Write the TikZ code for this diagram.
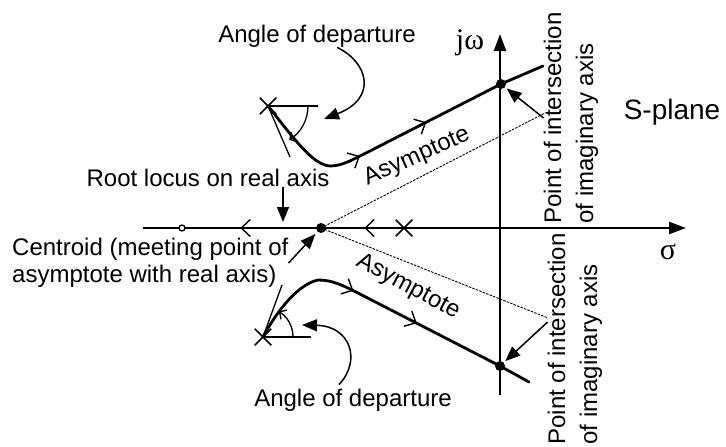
\documentclass[tikz,border=0pt]{standalone}
\usepackage{fontspec}
\setmainfont{Liberation Sans}
\newfontfamily\serif{Liberation Serif}
\usetikzlibrary{arrows.meta, positioning, calc, shapes.misc, decorations.markings}

\begin{document}
\begin{tikzpicture}[x=1pt, y=-1pt,
  lbl/.style={font=\fontsize{24}{27}\selectfont, inner sep=0pt, align=left},
  side/.style={lbl, rotate=90, font=\fontsize{24}{32}\selectfont},
  axis/.style={line width=2.4pt, -{Triangle[length=17pt, width=12pt]}},
  locus/.style={line width=2.8pt, line join=round, line cap=round},
  asym/.style={line width=0.9pt, dash pattern=on 2.5pt off 1.2pt},
  thinline/.style={line width=1.3pt},
  pointer/.style={line width=1.5pt, -{Triangle[length=15pt, width=12pt]}},
  pole/.style={draw, cross out, line width=1.5pt, minimum size=15pt, inner sep=0pt},
  dot/.style={circle, fill, inner sep=0pt, minimum size=10pt},
  flow/.style={postaction={decorate, decoration={markings,
      mark=at position #1 with {\arrow[line width=1.4pt]{Straight Barb[length=9pt, width=17pt]}}}}}
]
  \useasboundingbox (0,0) rectangle (726,447);

  \coordinate (xl) at (143,228);
  \coordinate (xr) at (686,228);
  \coordinate (yb) at (500,395);
  \coordinate (yt) at (500,34);
  \draw[axis] (xl) -- (xr);
  \draw[axis] (yb) -- (yt);
  \node[font=\fontsize{30}{30}\selectfont\serif] (sig) at (668,252) {σ};
  \node[font=\fontsize{30}{30}\selectfont\serif] (jw) at (470,43) {jω};

  \node[dot] (c0) at (321,228) {};
  \node[pole] (p0) at (404,228) {};
  \node[circle, draw, line width=1.3pt, fill=white, inner sep=0pt, minimum size=6pt] (z0) at (182,228) {};
  \draw[locus, flow=0.15, flow=0.74] (p0) -- (z0);

  \node[pole] (p1) at (268,106) {};
  \node[pole] (p2) at (263,337) {};
  \node[dot] (q1) at (501,84) {};
  \node[dot] (q2) at (500,366) {};
  \coordinate (e1) at (543,66);
  \coordinate (e2) at (529,382);
  \coordinate (a1) at (545,113);
  \coordinate (a2) at (548,318);

  \draw[asym] (c0.center) -- (a1);
  \draw[asym] (c0.center) -- (a2);

  \draw[locus, flow=0.37, flow=0.6] (p1.center) .. controls (295,140) and (313,165) .. (330,166)
    .. controls (342,166) and (352,160) .. (368,152) -- (q1.center) -- (e1);
  \draw[locus, flow=0.375, flow=0.6] (p2.center) .. controls (273,318) and (295,285) .. (318,280)
    .. controls (332,280) and (342,285) .. (356,292) -- (q2.center) -- (e2);

  \coordinate (t1) at (290,157);
  \coordinate (h1) at (318,106);
  \draw[thinline] (p1.center) -- (t1);
  \draw[thinline] (p1.center) -- (h1);
  \draw[thinline, -{Straight Barb[length=5pt, width=11pt]}] ($(p1.center)+(40,0)$) arc[start angle=0, end angle=58, radius=40];

  \coordinate (t2) at (282,285);
  \coordinate (h2) at (311,337);
  \draw[thinline] (p2.center) -- (t2);
  \draw[thinline] (p2.center) -- (h2);
  \draw[thinline, -{Straight Barb[length=5pt, width=11pt]}] ($(p2.center)+(30,0)$) arc[start angle=0, end angle=-58, radius=30];

  \node[lbl] (ang1) at (317,36) {Angle of departure};
  \coordinate (k1) at (324,119);
  \draw[pointer] ([xshift=20pt]ang1.south) .. controls (368,62) and (378,98) .. (k1);

  \node[lbl] (ang2) at (353,400) {Angle of departure};
  \coordinate (k2) at (302,325);
  \draw[pointer] ([xshift=-14pt, yshift=4pt]ang2.north) .. controls (362,360) and (350,326) .. (k2);

  \node[lbl] (rl) at (208,178) {Root locus on real axis};
  \coordinate (k3) at (283,222);
  \draw[pointer] (rl.south -| k3) -- (k3);

  \node[lbl, anchor=west] (cen) at (12,263) {Centroid (meeting point of\\asymptote with real axis)};
  \draw[pointer, shorten >=3pt] (cen.east) -- (c0);

  \node[lbl, rotate=24] (as1) at (417,157) {Asymptote};
  \node[lbl, rotate=-28] (as2) at (408,287) {Asymptote};

  \node[side] (pi1) at (571,118) {Point of intersection\\of imaginary axis};
  \draw[pointer, shorten >=2pt] (pi1.north) -- (q1);
  \node[side] (pi2) at (575,339) {Point of intersection\\of imaginary axis};
  \draw[pointer, shorten >=2pt] ([yshift=17pt]pi2.north) -- (q2);

  \node[font=\fontsize{28}{28}\selectfont] (sp) at (672,112) {S-plane};
\end{tikzpicture}
\end{document}
